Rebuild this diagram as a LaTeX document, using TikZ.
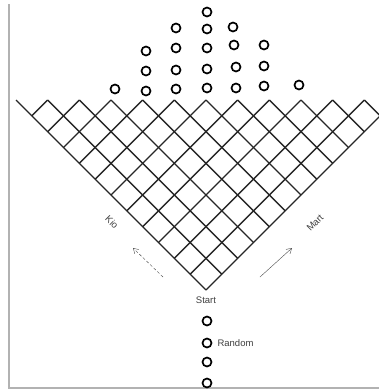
\documentclass[tikz,border=0pt]{standalone}
\usepackage{fontspec}
\setmainfont{Liberation Sans}
\usepackage{tikz}
\usetikzlibrary{arrows.meta,positioning}

\begin{document}
\begin{tikzpicture}[x=1pt,y=-1pt,>={Straight Barb[length=5pt,width=6pt]},
   font=\fontsize{9.5}{10}\selectfont,
   ball/.style={circle,draw,line width=1.7pt,minimum size=9pt,inner sep=0pt},
   grid/.style={line width=1.4pt,black!85},
   lbl/.style={text=black!75,inner sep=0pt}]
  \useasboundingbox (0,0) rectangle (379,391);
  \clip (0,0) rectangle (379,391);
  \fill[white] (0,0) rectangle (379,391);
  \draw[gray!60,line width=1.5pt] (9,4)--(9,388)--(379,388);
  % the cone, apex at Start
  \def\h{15.833}
  \foreach \k in {0,...,11}{
    \draw[grid] ({206-\k*\h},{290-\k*\h})--({206+(12-2*\k)*\h},100);
    \draw[grid] ({206+\k*\h},{290-\k*\h})--({206+(2*\k-12)*\h},100);
  }
  % balls that came out on top
  \foreach \x/\y [count=\i] in {115/89,146/91,146/71,146/51,176/89,176/70,176/48,
      176/28,207/88,207/69,207/48,207/29,207/12,236/88,236/67,234/45,233/27,
      264/86,264/66,264/45,299/85}
    \node[ball] (b\i) at (\x,\y) {};
  % balls waiting below
  \foreach \y [count=\i] in {321,343,362,383}
    \node[ball] (w\i) at (207,\y) {};
  \node[lbl] (start) at (206,300) {Start};
  \node[lbl,right=5pt of w2] (rand) {Random};
  \node[lbl,rotate=-45] (kio) at (112,222) {Kio};
  \node[lbl,rotate=45] (mart) at (315,223) {Mart};
  \coordinate (l0) at (163,277); \coordinate (l1) at (133,248);
  \coordinate (r0) at (260,277); \coordinate (r1) at (292,248);
  \draw[->,densely dashed,black!70] (l0)--(l1);
  \draw[->,black!70] (r0)--(r1);
\end{tikzpicture}
\end{document}
